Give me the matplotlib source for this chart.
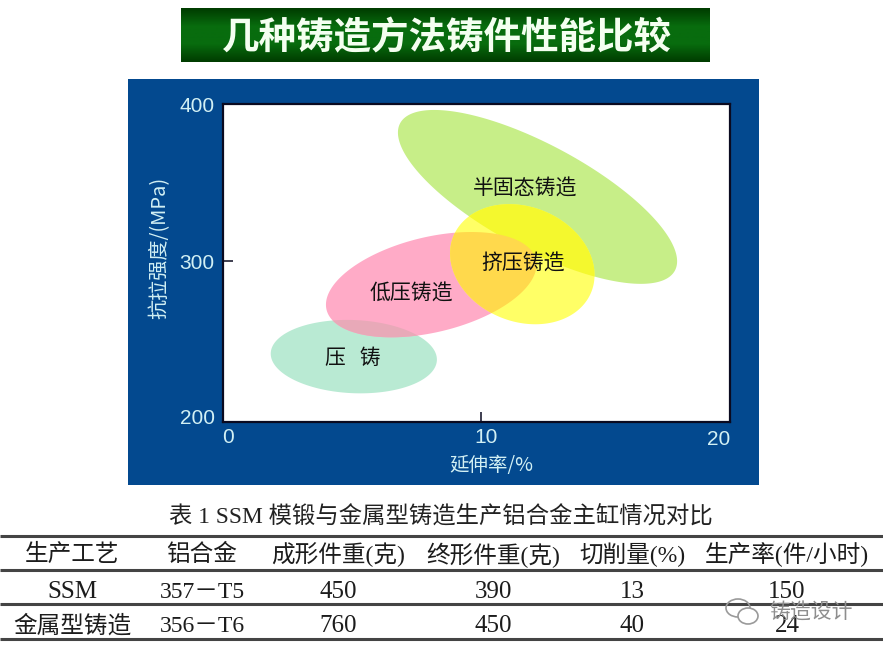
import numpy as np
import matplotlib
matplotlib.use("Agg")
import matplotlib.pyplot as plt
from matplotlib.colors import LinearSegmentedColormap
from matplotlib.patches import Rectangle, Ellipse
from matplotlib.transforms import ScaledTranslation

# ---------- data ----------
title = "几种铸造方法铸件性能比较"
x_label = "延伸率/%"
y_label = "抗拉强度/(MPa)"
x_ticks = [0, 10, 19.65]
x_tick_labels = ["0", "10", "20"]
y_ticks = [200, 300, 397.5]
y_tick_labels = ["200", "300", "400"]

# region: centre x, centre y, half-extent x, half-extent y, correlation
semi_solid = (12.19, 339.8, 5.41, 54.0, -0.74)
squeeze = (11.60, 298.0, 2.80, 37.3, -0.18)
low_pressure = (8.07, 285.3, 4.08, 32.7, 0.38)
die_casting = (5.07, 240.6, 3.22, 22.8, -0.08)

region_names = ["半固态铸造", "挤压铸造", "低压铸造", "压   铸"]
region_label_x = [11.70, 11.64, 7.29, 5.05]
region_label_y = [345.0, 298.5, 279.5, 239.5]

table_title = "表 1 SSM 模锻与金属型铸造生产铝合金主缸情况对比"
table_header = ["生产工艺", "铝合金", "成形件重(克)", "终形件重(克)", "切削量(%)", "生产率(件/小时)"]
table_row1 = ["SSM", "357－T5", "450", "390", "13", "150"]
table_row2 = ["金属型铸造", "356－T6", "760", "450", "40", "24"]

# ---------- layout (pixels) ----------
W, H = 883, 651
SERIF = ["Liberation Serif", "Noto Sans CJK SC"]
CJK = ["Noto Sans CJK SC", "DejaVu Sans"]
LABEL_C = "#D2F0F4"
plt.rcParams["font.family"] = CJK

fig = plt.figure(figsize=(W / 100, H / 100), dpi=100, facecolor="white")
bg = fig.add_axes([0, 0, 1, 1], zorder=0)
bg.set_axis_off()

# banner with vertical gradient
cmap = LinearSegmentedColormap.from_list(
    "banner", ["#003C00", "#086C0E", "#086C0E", "#003C00"])
bg.imshow(np.linspace(0, 1, 64)[:, None], cmap=cmap, aspect="auto",
          extent=(181, 710, 62, 8), zorder=1)
bg.set_xlim(0, W)
bg.set_ylim(H, 0)
bg.text(447, 38, title, color="#F4FFF0", fontsize=27, fontweight="bold",
        ha="center", va="center", zorder=2)

# blue frame
bg.add_patch(Rectangle((128, 79), 631, 406, fc="#03498F", ec="none", zorder=1))

# table
bg.text(441, 517, table_title, fontsize=16.8, ha="center", va="center",
        family=SERIF, color="#222222")
col_x = [72, 202, 338, 493, 632, 787]
row_y = [555, 592, 626]
for yy, row in zip(row_y, [table_header, table_row1, table_row2]):
    for xx, cell in zip(col_x, row):
        fs = 17 if yy == row_y[0] or not cell.isascii() else 18
        bg.text(xx, yy, cell, fontsize=fs, ha="center", va="center",
                family=SERIF, color="#1C1C1C")
for yy in [536, 570, 604, 639]:
    bg.plot([0, W], [yy, yy], color="#444444", lw=2.2, solid_capstyle="butt")

# watermark
wm = "#9A9A9A"
bg.add_patch(Ellipse((738, 608), 24, 18, fc="none", ec=wm, lw=1.2, zorder=4))
bg.add_patch(Ellipse((748, 616), 20, 16, fc="white", ec=wm, lw=1.2, zorder=4))
bg.text(811, 613, "铸造设计", color="#8E8E8E", fontsize=15, ha="center",
        va="center", zorder=4)

# chart
ax = fig.add_axes([223 / W, 1 - 422 / H, (730 - 223) / W, (422 - 104) / H], zorder=1)
ax.set_xlim(0, 19.65)
ax.set_ylim(200, 397.5)
ax.set_facecolor("white")
for s in ax.spines.values():
    s.set_linewidth(1.6)
    s.set_color("#0A0A20")


def outline(region):
    cx, cy, hx, hy, rho = region
    t = np.linspace(0, 2 * np.pi, 300)
    return (cx + hx * np.cos(t),
            cy + hy * (rho * np.cos(t) + np.sqrt(1 - rho ** 2) * np.sin(t)))


green_p = ax.fill(*outline(semi_solid), color="#C7EE88", lw=0, zorder=1)[0]
teal_p = ax.fill(*outline(die_casting), color="#B9EAD3", lw=0, zorder=1)[0]
pink_p = ax.fill(*outline(low_pressure), color="#FFABC7", lw=0, zorder=2)[0]
yellow_p = ax.fill(*outline(squeeze), color="#FFFF66", lw=0, zorder=3)[0]

# overlap tints: one region's outline clipped to the other region
for region, other, colour in [(die_casting, pink_p, "#E8A9B8"),
                              (semi_solid, yellow_p, "#F4F82E"),
                              (low_pressure, yellow_p, "#FFD94C")]:
    ov = ax.fill(*outline(region), color=colour, lw=0, zorder=4)[0]
    ov.set_clip_path(other)

for name, lx, ly in zip(region_names, region_label_x, region_label_y):
    ax.text(lx, ly, name, fontsize=15, color="#111111", ha="center",
            va="center", zorder=6)

ax.set_xticks(x_ticks, x_tick_labels)
ax.set_yticks(y_ticks, y_tick_labels)
ax.tick_params(direction="in", length=7.5, width=1.1, color="#0A0A20",
               labelcolor=LABEL_C, labelsize=15, pad=6)
for lab in ax.get_xticklabels() + ax.get_yticklabels():
    lab.set_family(["Liberation Sans", "Noto Sans CJK SC"])


def shift(label, dx, dy):
    label.set_transform(label.get_transform() + ScaledTranslation(
        dx / 100, -dy / 100, fig.dpi_scale_trans))


for lab, dx, dy in zip(ax.get_xticklabels(), [5, 5, -11], [-2, -2, 0]):
    shift(lab, dx, dy)
for lab, dy in zip(ax.get_yticklabels(), [-5, 1, 0]):
    shift(lab, 0, dy)

ax.set_xlabel(x_label, color=LABEL_C, fontsize=14, va="center")
ax.xaxis.set_label_coords((491 - 223) / 507, -(465 - 422) / 318)
ax.set_ylabel(y_label, color=LABEL_C, fontsize=14.5, va="center")
ax.yaxis.set_label_coords((160 - 223) / 507, (422 - 248) / 318)

fig.savefig("out.png", dpi=100)
